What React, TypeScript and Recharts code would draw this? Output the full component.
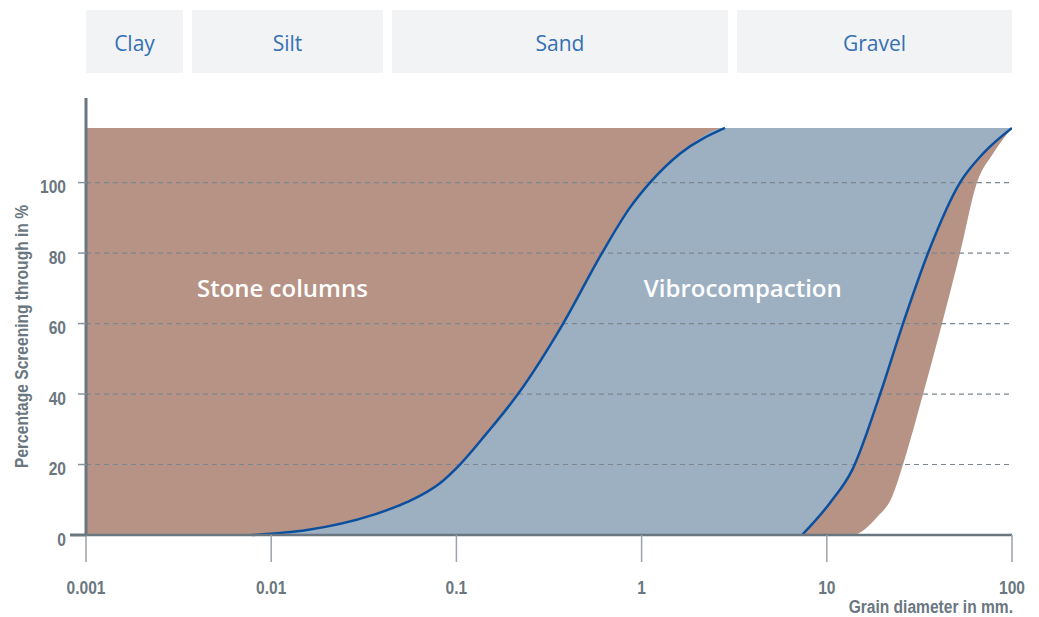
import { ComposedChart, Area, Line, XAxis, YAxis, ReferenceLine, ReferenceDot, Label } from 'recharts'

// grain size (mm) vs. percentage passing
const TOP = 115.5

const soilClasses = ['Clay', 'Silt', 'Sand', 'Gravel']
const xTicks = [0.001, 0.01, 0.1, 1, 10, 100]
const yTicks = [0, 20, 40, 60, 80, 100]

// left limit of vibrocompaction (fine side)
const vibroFineSize = [0.00787, 0.0156, 0.0355, 0.054, 0.0815, 0.1045, 0.146, 0.215, 0.377, 0.611, 0.865, 1.11, 1.61, 2.82]
const vibroFinePct = [0, 1.4, 5.7, 9.3, 14.7, 20, 28.9, 40, 60, 80, 92.9, 100, 108.2, TOP]
const vibroFullUntil = 7.5

// right limit of vibrocompaction (coarse side)
const vibroCoarseSize = [7.35, 10.4, 13.7, 19.4, 25.8, 35.2, 52.4, 69.7, 100]
const vibroCoarsePct = [0, 9.1, 18.4, 40, 60, 80, 100, 108.2, TOP]

// right limit of stone columns
const stoneSize = [13.7, 18.7, 22.5, 25.8, 33.1, 41.9, 52.4, 64.7, 78.9, 100]
const stonePct = [0, 5.1, 10.8, 20, 40, 60, 80, 100, 108.2, TOP]

const stoneData = [
  { size: 0.001, range: [0, TOP] },
  ...stoneSize.map((s, i) => ({ size: s, range: [stonePct[i], TOP] })),
]
const vibroLeftData = [
  ...vibroFineSize.map((s, i) => ({ size: s, range: [0, vibroFinePct[i]] })),
  { size: vibroFullUntil, range: [0, TOP] },
]
const vibroRightData = vibroCoarseSize.map((s, i) => ({ size: s, range: [vibroCoarsePct[i], TOP] }))
const fineLine = vibroFineSize.map((s, i) => ({ size: s, pct: vibroFinePct[i] }))
const coarseLine = vibroCoarseSize.map((s, i) => ({ size: s, pct: vibroCoarsePct[i] }))

const labelStone = { size: 0.0115, pct: 70 }
const labelVibro = { size: 3.52, pct: 70 }

const boxes = [
  { left: 86, width: 97 },
  { left: 192, width: 191 },
  { left: 392, width: 336 },
  { left: 737, width: 275 },
]

const AXIS = '#6b7780'
// no condensed face installed, so squeeze Liberation Sans Bold horizontally
const narrow = "'Liberation Sans', Arial, sans-serif"
const SQ = 0.82
const humanist = "'Open Sans', 'Noto Sans', sans-serif"

const NarrowText = ({ x, y, rotate = 0, anchor = 'middle', dy = 0, children }: any) => (
  <text
    transform={`translate(${x} ${y}) rotate(${rotate}) scale(${SQ} 1)`}
    dy={dy}
    textAnchor={anchor}
    fill={AXIS}
    fontSize={19}
    fontWeight={700}
    fontFamily={narrow}
  >
    {children}
  </text>
)

const YTick = ({ x, y, payload }: any) => (
  <g>
    {payload.value === 0 && <line x1={x + 4} x2={x + 20} y1={y} y2={y} stroke={AXIS} strokeWidth={3} />}
    <NarrowText x={x} y={y} dy={10.5} anchor="end">
      {payload.value}
    </NarrowText>
  </g>
)

const XTick = ({ x, y, payload }: any) => (
  <NarrowText x={x} y={y} dy={13.5}>
    {String(payload.value)}
  </NarrowText>
)

export default function App() {
  return (
    <div style={{ position: 'absolute', left: 0, top: 0, width: 1039, height: 617, background: '#fff' }}>
      {soilClasses.map((c, i) => (
        <div
          key={c}
          style={{
            position: 'absolute',
            top: 10,
            height: 63,
            left: boxes[i].left,
            width: boxes[i].width,
            background: '#f2f3f5',
            color: '#3470b4',
            fontFamily: humanist,
            fontSize: 21,
            display: 'flex',
            alignItems: 'center',
            justifyContent: 'center',
            paddingTop: 3,
            boxSizing: 'border-box',
          }}
        >
          {c}
        </div>
      ))}
      <ComposedChart width={1039} height={617} margin={{ top: 98, right: 27, bottom: 0, left: 0 }}>
        <XAxis
          dataKey="size"
          type="number"
          scale="log"
          domain={[0.001, 100]}
          allowDataOverflow
          ticks={xTicks}
          height={82}
          tickSize={27}
          tickMargin={18}
          axisLine={{ stroke: AXIS, strokeWidth: 2.5 }}
          tickLine={{ stroke: '#9aa2aa', strokeWidth: 1.5 }}
          tick={<XTick />}
        >
          <Label
            content={({ viewBox }: any) => (
              <NarrowText x={viewBox.x + viewBox.width + 1} y={viewBox.y + 78} anchor="end">
                Grain diameter in mm.
              </NarrowText>
            )}
          />
        </XAxis>
        <YAxis
          type="number"
          domain={[0, 124]}
          ticks={yTicks}
          width={86}
          tickSize={8}
          tickMargin={12}
          axisLine={{ stroke: AXIS, strokeWidth: 3 }}
          tickLine={{ stroke: '#8a939b', strokeWidth: 1.5 }}
          tick={<YTick />}
        >
          <Label
            content={({ viewBox }: any) => (
              <NarrowText x={viewBox.x + 28} y={viewBox.y + viewBox.height / 2 + 20} rotate={-90}>
                Percentage Screening through in %
              </NarrowText>
            )}
          />
        </YAxis>
        <Area data={stoneData} dataKey="range" type="monotone" fill="#b69385" fillOpacity={1} stroke="none" isAnimationActive={false} />
        <Area data={vibroLeftData} dataKey="range" type="monotone" fill="#9db0c2" fillOpacity={1} stroke="none" isAnimationActive={false} />
        <Area data={vibroRightData} dataKey="range" type="monotone" fill="#9db0c2" fillOpacity={1} stroke="none" isAnimationActive={false} />
        {yTicks.filter((v) => v > 0).map((v) => (
          <ReferenceLine key={v} y={v} stroke="#7c868f" strokeWidth={1.2} strokeDasharray="5 4" />
        ))}
        <Line data={fineLine} dataKey="pct" type="monotone" stroke="#0b4f9f" strokeWidth={2.5} dot={false} isAnimationActive={false} />
        <Line data={coarseLine} dataKey="pct" type="monotone" stroke="#0b4f9f" strokeWidth={2.5} dot={false} isAnimationActive={false} />
        <ReferenceDot
          x={labelStone.size}
          y={labelStone.pct}
          r={0}
          fill="none"
          stroke="none"
          label={{ value: 'Stone columns', position: 'center', fill: '#fff', fontSize: 24, fontWeight: 600, fontFamily: humanist }}
        />
        <ReferenceDot
          x={labelVibro.size}
          y={labelVibro.pct}
          r={0}
          fill="none"
          stroke="none"
          label={{ value: 'Vibrocompaction', position: 'center', fill: '#fff', fontSize: 24, fontWeight: 600, fontFamily: humanist }}
        />
      </ComposedChart>
    </div>
  )
}
